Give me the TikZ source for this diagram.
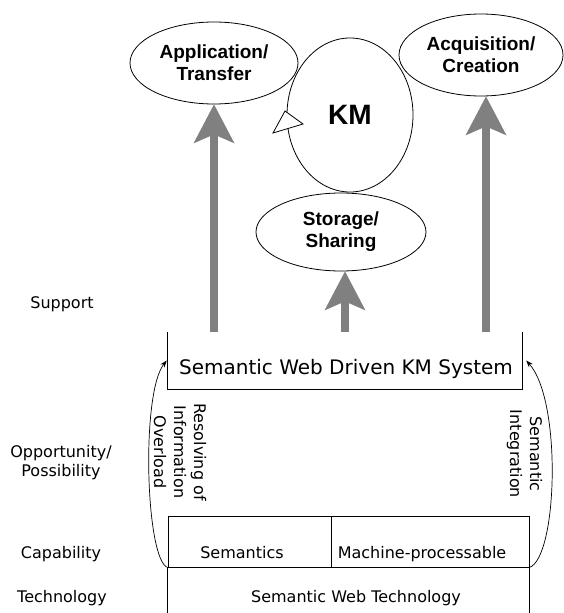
\documentclass[tikz,border=0pt]{standalone}
\usepackage{fontspec}
\setmainfont{DejaVu Sans}
\newfontfamily\libsans{Liberation Sans}
\usetikzlibrary{arrows.meta,shapes.geometric,calc}
\definecolor{arrowgray}{RGB}{128,128,128}
\begin{document}
\begin{tikzpicture}[x=1pt,y=-1pt]
\tikzset{
  lab/.style={font=\fontsize{16}{19}\selectfont, inner sep=0pt, anchor=base},
  ell/.style={draw, ellipse, inner sep=0pt, line width=0.8pt, align=center,
    font=\libsans\bfseries\fontsize{19}{22}\selectfont},
  cell/.style={draw, rectangle, inner sep=0pt, line width=0.9pt},
  bigarrow/.style={draw=arrowgray, line width=8pt,
    -{Stealth[length=39pt,width=41pt,inset=9pt,line width=0pt]}},
  thinarrow/.style={line width=0.7pt, -{Stealth[length=7pt,width=5pt]}},
  vlab/.style={font=\fontsize{16}{20}\selectfont, inner sep=0pt, rotate=-90, align=center},
}
\useasboundingbox (0,0) rectangle (563,613);

% KM ellipses
\node[ell, minimum width=168pt, minimum height=82pt] (app) at (214,63) {Application/\\Transfer};
\node[ell, minimum width=164pt, minimum height=82pt] (acq) at (481,55) {Acquisition/\\Creation};
\node[ell, minimum width=170pt, minimum height=78pt] (sto) at (341,232) {Storage/\\Sharing};
\node[ell, minimum width=126pt, minimum height=154pt,
  font=\libsans\bfseries\fontsize{28}{30}\selectfont] (km) at (350,115) {KM};
\filldraw[fill=white, line width=0.8pt] (285,111) -- (303,124) -- (273,133) -- cycle;

% system box (open at top)
\node[inner sep=0pt, minimum width=354pt, minimum height=57pt] (sysbox) at (345,360.5) {};
\draw[line width=0.9pt] (sysbox.north west) -- (sysbox.south west)
  -- (sysbox.south east) -- (sysbox.north east);
\node[font=\fontsize{20}{24}\selectfont, inner sep=0pt, anchor=base] (systext) at (346,374)
  {Semantic Web Driven KM System};

% capability / technology
\node[cell, minimum width=163pt, minimum height=51pt] (semcell) at (249.5,541.5) {};
\node[cell, minimum width=198pt, minimum height=51pt] (machcell) at (430,541.5) {};
\draw[line width=0.9pt] (semcell.south west) -- ++(0,47);
\draw[line width=0.9pt] (machcell.south east) -- ++(0,47);
\node[lab] (semtext) at (242,558) {Semantics};
\node[lab] (machtext) at (422,558) {Machine-processable};
\node[lab] (swt) at (356,602) {Semantic Web Technology};

% left column labels
\node[lab] (support) at (62,308) {Support};
\node[font=\fontsize{16}{19}\selectfont, inner sep=0pt, align=center] (opp) at (61,463)
  {Opportunity/\\Possibility};
\node[lab] (capab) at (61,558) {Capability};
\node[lab] (tech) at (62,602) {Technology};

% rotated labels
\node[vlab] (resolv) at (180,452) {Resolving of\\Information\\Overload};
\node[vlab] (semint) at (524.5,454) {Semantic\\Integration};

% big gray arrows
\draw[bigarrow] (sysbox.north -| app.south) -- (app.south);
\draw[bigarrow] ([xshift=4pt]sysbox.north -| sto.south) -- ([xshift=4pt]sto.south);
\draw[bigarrow] ([xshift=5pt]sysbox.north -| acq.south) -- ([xshift=5pt]acq.south);

% thin curved arrows
\draw[thinarrow] (semcell.south west) .. controls +(-22,-8) and +(-26,32) .. ([xshift=-1pt]sysbox.west);
\draw[thinarrow] (machcell.south east) .. controls +(28,-10) and +(36,40) .. ([xshift=4pt]sysbox.east);
\end{tikzpicture}
\end{document}
